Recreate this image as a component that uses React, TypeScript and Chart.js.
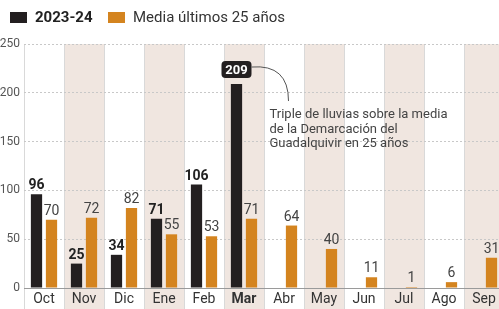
import React, { useEffect, useRef } from "react";
import { Chart, registerables } from "chart.js";

Chart.register(...registerables);

const months = ["Oct", "Nov", "Dic", "Ene", "Feb", "Mar", "Abr", "May", "Jun", "Jul", "Ago", "Sep"];
const current = [96, 25, 34, 71, 106, 209, null, null, null, null, null, null];
const average = [70, 72, 82, 55, 53, 71, 64, 40, 11, 1, 6, 31];
const yTicks = [0, 50, 100, 150, 200, 250];
const legendLabels = ["2023-24", "Media últimos 25 años"];
const noteLines = ["Triple de lluvias sobre la media", "de la Demarcación del", "Guadalquivir en 25 años"];
const highlightIndex = 5;

const BLACK = "#231f20";
const ORANGE = "#d4841f";
const SHADE = "#f0e6e0";
const FONT = "Roboto, 'Noto Sans', sans-serif";

export default function App() {
  const ref = useRef<HTMLCanvasElement>(null);
  useEffect(() => {
    const canvas = ref.current!;
    const decor = {
      id: "decor",
      beforeDraw(chart: any) {
        const { ctx, chartArea, scales } = chart;
        const x = scales.x;
        const h = chart.height;
        ctx.save();
        ctx.fillStyle = "#ffffff";
        ctx.fillRect(0, 0, chart.width, h);
        const step = (chartArea.right - chartArea.left) / months.length;
        months.forEach((m, i) => {
          const c = x.getPixelForValue(i);
          if (i % 2 === 1) {
            ctx.fillStyle = SHADE;
            ctx.fillRect(c - step / 2, chartArea.top, step, h - chartArea.top);
          }
        });
        ctx.strokeStyle = "#d9d9d9";
        ctx.lineWidth = 1;
        for (let i = 0; i <= months.length; i++) {
          const xx = Math.round(x.getPixelForValue(i) - step / 2) + 0.5;
          ctx.beginPath();
          ctx.moveTo(xx, chartArea.top);
          ctx.lineTo(xx, h);
          ctx.stroke();
        }
        ctx.restore();
      },
      beforeDatasetsDraw(chart: any) {
        const { ctx, chartArea, scales } = chart;
        const y0 = Math.round(scales.y.getPixelForValue(0)) + 0.5;
        ctx.save();
        ctx.strokeStyle = "#9a9a9a";
        ctx.lineWidth = 1;
        ctx.beginPath();
        ctx.moveTo(chartArea.left, y0);
        ctx.lineTo(chartArea.right, y0);
        ctx.stroke();
        ctx.restore();
      },
      afterDatasetsDraw(chart: any) {
        const { ctx } = chart;
        ctx.save();
        ctx.textAlign = "center";
        ctx.textBaseline = "alphabetic";
        chart.data.datasets.forEach((ds: any, di: number) => {
          const meta = chart.getDatasetMeta(di);
          meta.data.forEach((bar: any, i: number) => {
            const v = ds.data[i];
            if (v === null || v === undefined) return;
            if (di === 0 && i === highlightIndex) {
              const bx = bar.x;
              const w = 30, hh = 17;
              const top = bar.y - 6 - hh;
              ctx.fillStyle = BLACK;
              ctx.beginPath();
              (ctx as any).roundRect(bx - w / 2, top, w, hh, 4);
              ctx.fill();
              ctx.fillStyle = "#ffffff";
              ctx.font = `bold 13px ${FONT}`;
              ctx.textBaseline = "middle";
              ctx.fillText(String(v), bx, top + hh / 2 + 1);
              ctx.textBaseline = "alphabetic";
              // connector curve
              ctx.strokeStyle = "#555555";
              ctx.lineWidth = 1;
              ctx.beginPath();
              ctx.moveTo(bx + w / 2, top + 6);
              ctx.quadraticCurveTo(bx + 52, top + 3, bx + 52, top + 40);
              ctx.stroke();
              // note text
              ctx.fillStyle = "#444444";
              ctx.font = `13px ${FONT}`;
              ctx.textAlign = "left";
              noteLines.forEach((line, li) => {
                ctx.fillText(line, bx + 33, top + 57 + li * 14.5);
              });
              ctx.textAlign = "center";
              return;
            }
            if (di === 0) {
              ctx.fillStyle = "#222222";
              ctx.font = `bold 14px ${FONT}`;
            } else {
              ctx.fillStyle = "#444444";
              ctx.font = `14px ${FONT}`;
            }
            ctx.fillText(String(v), bar.x, bar.y - 5);
          });
        });
        ctx.restore();
      },
      afterDraw(chart: any) {
        const { ctx } = chart;
        ctx.save();
        ctx.textBaseline = "middle";
        ctx.textAlign = "left";
        ctx.fillStyle = BLACK;
        ctx.fillRect(10, 12, 17, 11);
        ctx.font = `bold 15px ${FONT}`;
        ctx.fillStyle = "#222222";
        ctx.fillText(legendLabels[0], 35, 18);
        ctx.fillStyle = ORANGE;
        ctx.fillRect(108, 12, 17, 11);
        ctx.font = `15px ${FONT}`;
        ctx.fillStyle = "#333333";
        ctx.fillText(legendLabels[1], 133, 18);
        ctx.restore();
      },
    };

    const chart = new Chart(canvas, {
      type: "bar",
      data: {
        labels: months,
        datasets: [
          { label: legendLabels[0], data: current as any, backgroundColor: BLACK, categoryPercentage: 0.75, barPercentage: 0.75 },
          { label: legendLabels[1], data: average, backgroundColor: ORANGE, categoryPercentage: 0.75, barPercentage: 0.75 },
        ],
      },
      options: {
        responsive: false,
        animation: false,
        devicePixelRatio: 1,
        layout: { padding: { top: 44, left: 0, right: 0, bottom: 0 } },
        plugins: { legend: { display: false }, tooltip: { enabled: false } },
        scales: {
          x: {
            grid: { display: false, drawTicks: false },
            border: { display: false },
            ticks: {
              padding: 3,
              color: "#333333",
              font: (c: any) => ({ family: FONT, size: 14, weight: c.index === highlightIndex ? "bold" : "normal" }),
            },
            afterFit: (s: any) => { s.height = 21; },
          },
          y: {
            min: 0,
            max: 250,
            afterBuildTicks: (s: any) => { s.ticks = yTicks.map((v) => ({ value: v })); },
            grid: { color: "#c8c8c8", drawTicks: false, lineWidth: 1 },
            border: { display: false, dash: [2, 2] },
            ticks: { padding: 4, color: "#555555", font: { family: FONT, size: 12 } },
            afterFit: (s: any) => { s.width = 24; },
          },
        },
      },
      plugins: [decor],
    });
    return () => chart.destroy();
  }, []);

  return (
    <div style={{ position: "absolute", left: 0, top: 0, width: 499, height: 309, overflow: "hidden" }}>
      <canvas ref={ref} width={504} height={309} style={{ display: "block", width: 504, height: 309 }} />
    </div>
  );
}
